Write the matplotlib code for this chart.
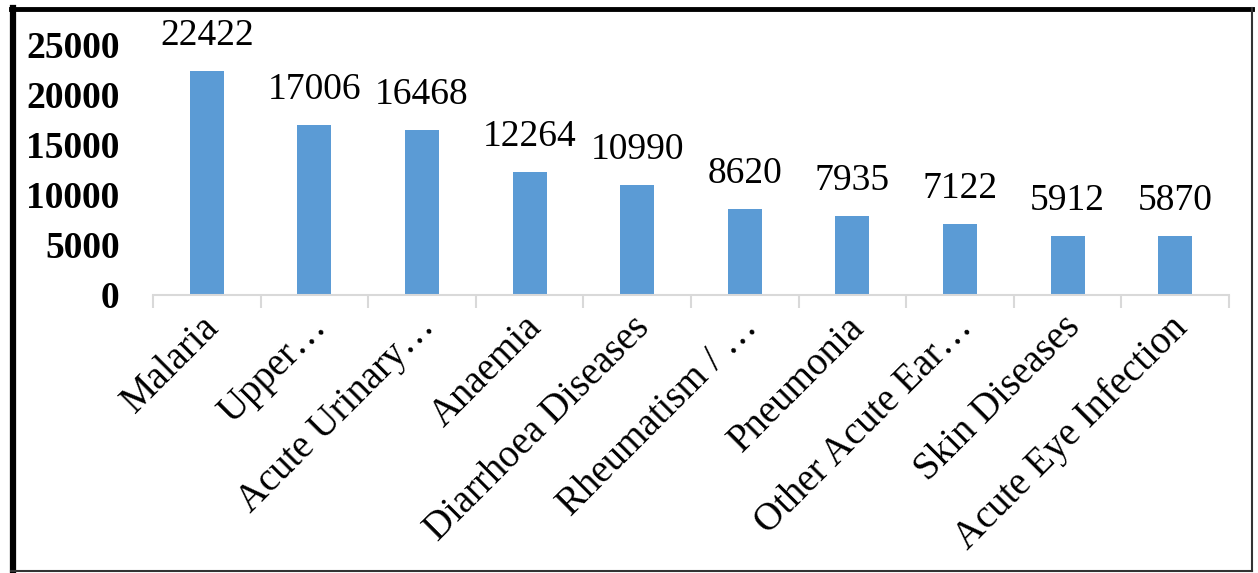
import matplotlib
matplotlib.use("Agg")
import matplotlib.pyplot as plt
from matplotlib.lines import Line2D
from matplotlib.transforms import ScaledTranslation

categories = ["Malaria", "Upper…", "Acute Urinary…", "Anaemia", "Diarrhoea Diseases",
              "Rheumatism / …", "Pneumonia", "Other Acute Ear…", "Skin Diseases",
              "Acute Eye Infection"]
values = [22422, 17006, 16468, 12264, 10990, 8620, 7935, 7122, 5912, 5870]
yticks = [0, 5000, 10000, 15000, 20000, 25000]

plt.rcParams['font.family'] = ['Liberation Serif', 'DejaVu Serif']

W, H = 1258, 573
fig = plt.figure(figsize=(W/100, H/100), dpi=100)
ax = fig.add_axes([153/W, (H-295)/H, (1229-153)/W, 250/H])

x = list(range(len(categories)))
bars = ax.bar(x, values, width=0.315, color="#5B9BD5", zorder=2)
for xi, v in zip(x, values):
    ax.annotate(str(v), (xi, v), xytext=(0, 13), textcoords="offset points",
                ha="center", va="bottom", fontsize=27, annotation_clip=False)

ax.set_xlim(-0.5, len(categories)-0.5)
ax.set_ylim(0, 25000)
ax.set_yticks(yticks)
ax.set_yticklabels([str(t) for t in yticks], fontsize=27, fontweight="bold")
ax.tick_params(axis="y", length=0, pad=24)
ax.set_xticks(x)
ax.set_xticklabels(categories, rotation=45, ha="right", rotation_mode="anchor",
                   fontsize=28)
ax.tick_params(axis="x", length=0, pad=10)
shift = ScaledTranslation(-6/100, 0, fig.dpi_scale_trans)
for lbl in ax.get_xticklabels():
    lbl.set_transform(lbl.get_transform() + shift)
# minor ticks between categories
ax.set_xticks([i - 0.5 for i in range(len(categories)+1)], minor=True)
ax.tick_params(axis="x", which="minor", length=9, color="#D9D9D9", width=1.5)

for s in ["top", "right", "left"]:
    ax.spines[s].set_visible(False)
ax.spines["bottom"].set_color("#D9D9D9")
ax.spines["bottom"].set_linewidth(1.5)

# figure border
fig.add_artist(Line2D([13/W, 13/W], [1-8/H, 1-571/H], color="black", lw=4.5, transform=fig.transFigure))
fig.add_artist(Line2D([11/W, 1252/W], [1-9/H, 1-9/H], color="black", lw=3.5, transform=fig.transFigure))
fig.add_artist(Line2D([1252/W, 1252/W], [1-8/H, 1-571/H], color="#333333", lw=1.5, transform=fig.transFigure))
fig.add_artist(Line2D([11/W, 1252/W], [1-571/H, 1-571/H], color="#333333", lw=1.5, transform=fig.transFigure))

fig.savefig("out.png", dpi=100)
